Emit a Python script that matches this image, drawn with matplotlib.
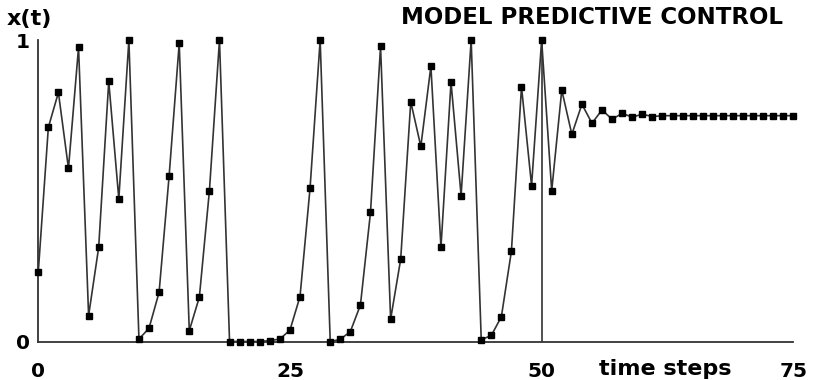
import matplotlib
matplotlib.use("Agg")
import matplotlib.pyplot as plt

# state x(t), one value per time step 0..75
steps = list(range(76))
x_t = [0.23, 0.71, 0.826, 0.574, 0.976, 0.086, 0.312, 0.863, 0.473, 1.0,
       0.008, 0.044, 0.163, 0.55, 0.989, 0.036, 0.147, 0.50, 1.0, 0.0,
       0.0, 0.0, 0.0, 0.003, 0.008, 0.038, 0.149, 0.51, 1.0, 0.0,
       0.007, 0.033, 0.121, 0.428, 0.979, 0.074, 0.273, 0.795, 0.647, 0.913,
       0.312, 0.86, 0.484, 1.0, 0.006, 0.02, 0.082, 0.30, 0.845, 0.517,
       1.0, 0.50, 0.834, 0.687, 0.787, 0.724, 0.768, 0.737, 0.757, 0.744,
       0.754, 0.746, 0.749, 0.749, 0.749, 0.749, 0.749, 0.749, 0.749, 0.749,
       0.749, 0.749, 0.749, 0.749, 0.749, 0.749]
control_start = 50
x_ticks = [0, 25, 50, 75]
y_ticks = [0, 1]

fig = plt.figure(figsize=(8.16, 3.8), dpi=100)
ax = fig.add_axes([0.0469, 0.1013, 0.9253, 0.7934])

ax.plot(steps, x_t, color="#333333", lw=1.2, marker="s", ms=3.8,
        mfc="black", mec="black", clip_on=False, zorder=3)
ax.axvline(control_start, color="#333333", lw=1.2)

ax.set_xlim(0, 75)
ax.set_ylim(0, 1)
for side in ["top", "right"]:
    ax.spines[side].set_visible(False)
for side in ["left", "bottom"]:
    ax.spines[side].set_color("#333333")
    ax.spines[side].set_linewidth(1.3)

ax.set_xticks(x_ticks)
ax.set_xticklabels([str(v) for v in x_ticks])
ax.set_yticks(y_ticks)
ax.set_yticklabels([str(v) for v in y_ticks])
ax.tick_params(axis="x", length=0, pad=15, labelsize=14.5)
ax.tick_params(axis="y", length=0, pad=6, labelsize=14.5)
for lab in ax.get_xticklabels() + ax.get_yticklabels():
    lab.set_fontweight("bold")

ax.text(62.3, -0.09, "time steps", ha="center", va="center",
        fontsize=16, fontweight="bold", clip_on=False)
fig.text(7 / 816, 1 - 19 / 380, "x(t)", ha="left", va="center",
         fontsize=16, fontweight="bold")
fig.text(783 / 816, 1 - 17.5 / 380, "MODEL PREDICTIVE CONTROL", ha="right",
         va="center", fontsize=16.5, fontweight="bold")

fig.savefig("out.png", dpi=100)
